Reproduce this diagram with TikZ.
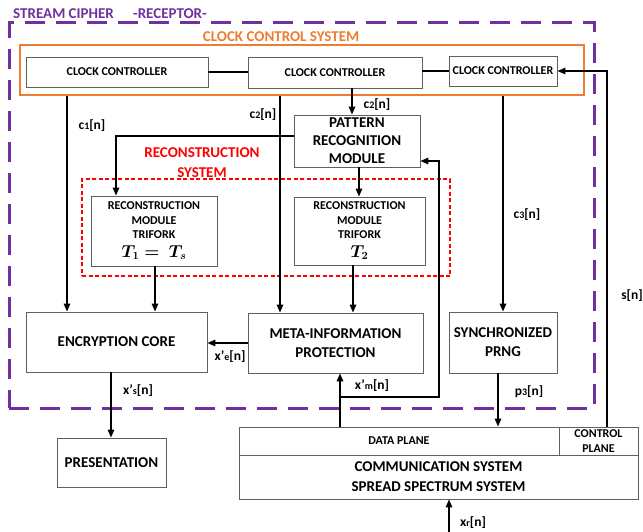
\documentclass[tikz,border=0pt]{standalone}
\usepackage{fontspec}
\setmainfont{Carlito}
\usepackage{bm}
\usetikzlibrary{arrows.meta}

\definecolor{frameorange}{RGB}{237,125,49}
\definecolor{framepurple}{RGB}{112,48,160}
\definecolor{framered}{RGB}{255,0,0}
\definecolor{boxgray}{RGB}{95,95,95}

% small index letter inside signal names, e.g. c1[n]
\newcommand{\idx}[1]{{\fontsize{10}{10}\selectfont #1}}

\tikzset{
  box/.style={draw=boxgray, line width=0.9pt, fill=white, align=center, inner sep=0pt},
  smalltxt/.style={font=\fontsize{12}{14.5}\selectfont\bfseries},
  bigtxt/.style={font=\fontsize{15}{19}\selectfont\bfseries},
  conn/.style={line width=1.6pt, draw=black, line join=miter},
  arr/.style={conn, -{Triangle[length=8pt,width=6.5pt]}},
  lbl/.style={font=\fontsize{13.5}{13.5}\selectfont\bfseries, inner sep=0pt},
  purpleframe/.style={draw=framepurple, line width=3pt, dash pattern=on 20pt off 11pt, inner sep=0pt},
  orangeframe/.style={draw=frameorange, line width=2.7pt, inner sep=0pt},
  redframe/.style={draw=framered, line width=2.8pt, dash pattern=on 4pt off 2.5pt, inner sep=0pt},
}

\begin{document}
\begin{tikzpicture}[x=1pt, y=-1pt]
\useasboundingbox (0,0) rectangle (643,532);

% ---- frames and their titles ----
\node[purpleframe, minimum width=585pt, minimum height=385pt] (rx) at (301.5,215.5) {};
\node[orangeframe, minimum width=564pt, minimum height=50pt] (ccs) at (302,70) {};
\node[redframe, minimum width=368pt, minimum height=97pt] (rsys) at (266,227.5) {};

\node[anchor=west, text=framepurple, font=\fontsize{15}{15}\selectfont\bfseries, inner sep=0pt] (t1) at (13,14) {STREAM CIPHER};
\node[anchor=west, text=framepurple, font=\fontsize{15}{15}\selectfont\bfseries, inner sep=0pt] (t2) at (133,14) {-RECEPTOR-};
\node[text=frameorange, font=\fontsize{15}{15}\selectfont\bfseries, inner sep=0pt] (tccs) at (281,37) {CLOCK CONTROL SYSTEM};
\node[text=framered, font=\fontsize{15}{20}\selectfont\bfseries, align=center, inner sep=0pt] (trs) at (202,163) {RECONSTRUCTION\\SYSTEM};

% ---- clock controllers ----
\node[box, smalltxt, minimum width=182pt, minimum height=30pt] (cc1) at (117,72) {CLOCK CONTROLLER};
\node[box, smalltxt, minimum width=174pt, minimum height=31pt] (cc2) at (335,72.5) {CLOCK CONTROLLER};
\node[box, smalltxt, minimum width=108pt, minimum height=30pt] (cc3) at (503,71) {CLOCK CONTROLLER};

% ---- processing blocks ----
\node[box, bigtxt, font=\fontsize{15}{18}\selectfont\bfseries, minimum width=126pt, minimum height=52pt] (pr) at (357,141) {PATTERN\\RECOGNITION\\MODULE};
\node[box, smalltxt, minimum width=126pt, minimum height=70pt] (rm1) at (154,231)
  {RECONSTRUCTION\\MODULE\\TRIFORK\\[4pt]{\fontsize{16}{16}\selectfont$\bm{T_1 = \;T_s}$}};
\node[box, smalltxt, minimum width=131pt, minimum height=68pt] (rm2) at (359.5,231)
  {RECONSTRUCTION\\MODULE\\TRIFORK\\[4pt]{\fontsize{16}{16}\selectfont$\bm{T_2}$}};
\node[box, bigtxt, minimum width=181pt, minimum height=60pt] (enc) at (116.5,342) {ENCRYPTION CORE};
\node[box, bigtxt, minimum width=175pt, minimum height=60pt] (meta) at (335.5,343) {META-INFORMATION\\PROTECTION};
\node[box, bigtxt, minimum width=108pt, minimum height=61pt] (sync) at (503,342.5) {SYNCHRONIZED\\PRNG};
\node[box, bigtxt, minimum width=109pt, minimum height=49pt] (pres) at (111.5,462.5) {PRESENTATION};

% ---- communication system ----
\node[box, smalltxt, minimum width=320pt, minimum height=28pt] (data) at (399,441) {DATA PLANE};
\node[box, smalltxt, font=\fontsize{12}{15}\selectfont\bfseries, minimum width=79pt, minimum height=28pt] (ctrl) at (598.5,441) {CONTROL\\PLANE};
\node[box, bigtxt, font=\fontsize{15}{20}\selectfont\bfseries, minimum width=399pt, minimum height=44pt] (commsys) at (438.5,477) {COMMUNICATION SYSTEM\\SPREAD SPECTRUM SYSTEM};

% ---- connector positions ----
\coordinate (xc1) at (67,0);
\coordinate (xc2) at (280,0);
\coordinate (xc2b) at (352,0);
\coordinate (xc3) at (503,0);
\coordinate (xrm1in) at (116,0);
\coordinate (xrm1) at (155,0);
\coordinate (xpr) at (359,0);
\coordinate (xrm2) at (353,0);
\coordinate (xxs) at (111,0);
\coordinate (xxm) at (340,0);
\coordinate (xp3) at (498,0);
\coordinate (xs) at (607,0);
\coordinate (ypr) at (0,136);
\coordinate (yprin) at (0,161);
\coordinate (fbturn) at (439,397);
\coordinate (xrin) at (449,532);

% ---- connectors ----
\draw[conn] (cc1.east) -- (cc2.west |- cc1.east);
\draw[conn] (cc2.east |- cc3.west) -- (cc3.west);
\draw[arr] (ctrl.north -| xs) |- (cc3.east);

\draw[arr] (ccs.south -| xc1) -- (enc.north -| xc1);
\draw[arr] (ccs.south -| xc2) -- (meta.north -| xc2);
\draw[arr] (cc2.south -| xc2b) -- (pr.north -| xc2b);
\draw[arr] (ccs.south -| xc3) -- (sync.north -| xc3);

\draw[arr] (pr.west |- ypr) -| (rm1.north -| xrm1in);
\draw[arr] (pr.south -| xpr) -- (rm2.north -| xpr);
\draw[arr] (rm1.south -| xrm1) -- (enc.north -| xrm1);
\draw[arr] (rm2.south -| xrm2) -- (meta.north -| xrm2);
\draw[arr] (meta.west) -- (enc.east |- meta.west);

\draw[arr] (data.north -| xxm) -- (meta.south -| xxm);
\draw[arr] (data.north -| xxm) |- (fbturn) |- (pr.east |- yprin);
\draw[arr] (sync.south -| xp3) -- (data.north -| xp3);
\draw[arr] (enc.south -| xxs) -- (pres.north -| xxs);
\draw[arr] (xrin) -- (commsys.south -| xrin);

% ---- signal labels ----
\node[lbl] (lc1) at (92,126) {c\idx{1}[n]};
\node[lbl] (lc2a) at (263,115) {c\idx{2}[n]};
\node[lbl] (lc2b) at (377,105) {c\idx{2}[n]};
\node[lbl] (lc3) at (527,215) {c\idx{3}[n]};
\node[lbl] (ls) at (632,296) {s[n]};
\node[lbl] (lxe) at (230,357) {x’\idx{e}[n]};
\node[lbl] (lxs) at (138,391) {x’\idx{s}[n]};
\node[lbl] (lxm) at (372,386) {x’\idx{m}[n]};
\node[lbl] (lp3) at (529,392) {p\idx{3}[n]};
\node[lbl] (lxr) at (473,523) {x\idx{r}[n]};
\end{tikzpicture}
\end{document}
